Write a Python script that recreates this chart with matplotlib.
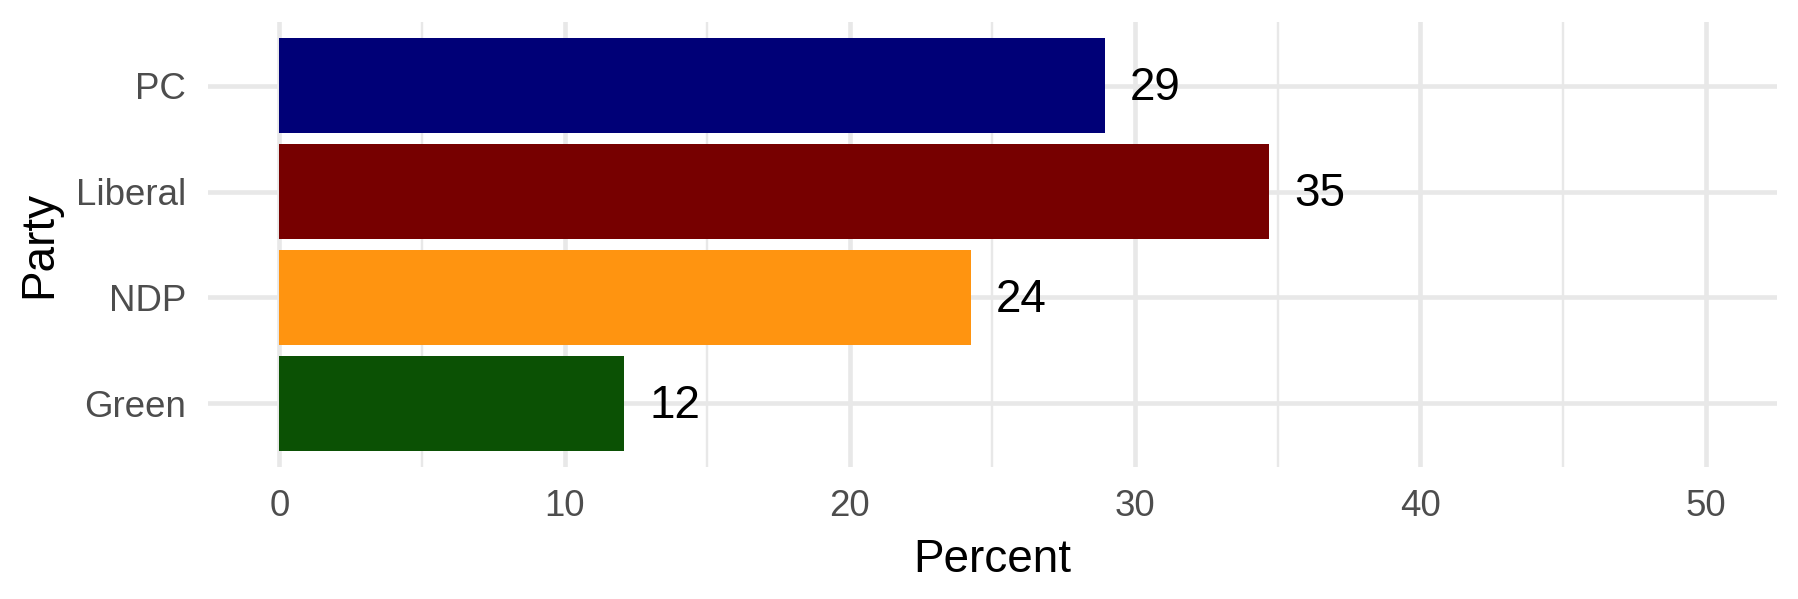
import matplotlib
matplotlib.use("Agg")
import matplotlib.pyplot as plt

# poll numbers by party
parties = ["PC", "Liberal", "NDP", "Green"]
percent = [28.95, 34.7, 24.25, 12.1]
labels = ["29", "35", "24", "12"]
colors = ["#000077", "#770000", "#FF9410", "#0B5104"]

plt.rcParams['font.family'] = ['Liberation Sans', 'DejaVu Sans']

fig = plt.figure(figsize=(17.99, 5.99), dpi=100)
ax = fig.add_axes([208/1799, (599-467)/599, (1777-208)/1799, 445/599])

# grid first (ggplot minimal look)
ax.set_axisbelow(True)
for x in [5, 15, 25, 35, 45]:
    ax.axvline(x, color="#E8E8E8", lw=1.7, zorder=0)
for x in [0, 10, 20, 30, 40, 50]:
    ax.axvline(x, color="#E8E8E8", lw=3.3, zorder=0)
for i in range(len(parties)):
    ax.axhline(i, color="#E8E8E8", lw=3.3, zorder=0)

ax.barh(parties, percent, height=0.9, color=colors, zorder=2)
for p, v, lab in zip(parties, percent, labels):
    ax.annotate(lab, (v, p), xytext=(18, -2), textcoords="offset points",
                ha="left", va="center", fontsize=33, color="black")

ax.set_xlim(-2.5, 52.5)
ax.set_ylim(3.6, -0.6)
ax.set_xticks([0, 10, 20, 30, 40, 50])
ax.tick_params(length=0, pad=16, labelsize=26.4, labelcolor="#4D4D4D")
for s in ax.spines.values():
    s.set_visible(False)
ax.set_xlabel("Percent", fontsize=33, labelpad=10)
ax.set_ylabel("Party", fontsize=33, labelpad=10)

fig.savefig("out.png", dpi=100)
